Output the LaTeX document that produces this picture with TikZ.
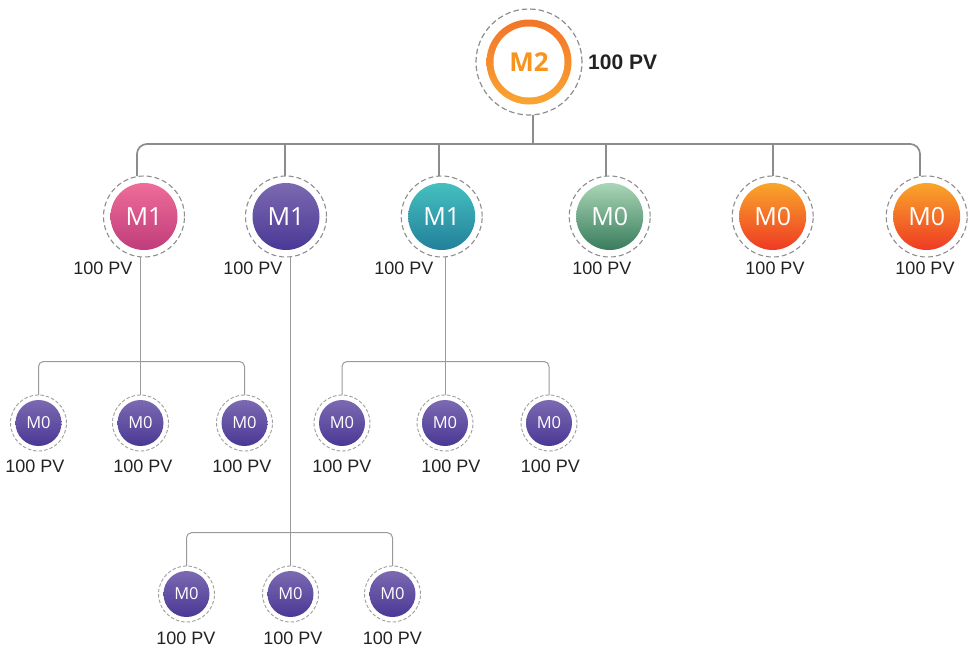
\documentclass[tikz,border=0pt]{standalone}
\usepackage{fontspec}
\setmainfont{Liberation Sans}
\newfontfamily\mfont{Open Sans}
\usetikzlibrary{calc}
\definecolor{halogray}{HTML}{8E8E8E}
\definecolor{linegray}{HTML}{8C8C8C}
\definecolor{lightline}{HTML}{9A9A9A}
\definecolor{pinkT}{HTML}{EE6D99}
\definecolor{pinkB}{HTML}{C03C7B}
\definecolor{purT}{HTML}{7B69B1}
\definecolor{purB}{HTML}{4A3995}
\definecolor{tealT}{HTML}{45C0C0}
\definecolor{tealB}{HTML}{22809A}
\definecolor{greenT}{HTML}{AAD6B6}
\definecolor{greenB}{HTML}{387C5C}
\definecolor{orT}{HTML}{F9A62A}
\definecolor{orB}{HTML}{EE3A24}
\definecolor{ringT}{HTML}{F37429}
\definecolor{ringB}{HTML}{F9A532}
\definecolor{mtwo}{HTML}{F7941D}
\definecolor{dark}{HTML}{222222}
\tikzset{
  halo1/.style={circle, draw=halogray, line width=1.1pt, dash pattern=on 5pt off 3pt, minimum size=81pt, inner sep=0pt, outer sep=0pt},
  halo2/.style={circle, draw=halogray!85, line width=0.9pt, dash pattern=on 3.5pt off 2pt, minimum size=56pt, inner sep=0pt, outer sep=0pt},
  ball1/.style 2 args={circle, minimum size=67pt, inner sep=0pt, top color=#1, bottom color=#2, text=white, font=\mfont\fontsize{25}{25}\selectfont},
  ball2/.style={circle, minimum size=46pt, inner sep=0pt, top color=purT, bottom color=purB, text=white, font=\mfont\fontsize{16.5}{16.5}\selectfont},
  pv/.style={font=\fontsize{18}{18}\selectfont, text=dark, inner sep=0pt},
  conn1/.style={draw=linegray, line width=1.7pt, rounded corners=10pt},
  conn2/.style={draw=lightline, line width=1pt, rounded corners=5pt},
}
\begin{document}
\begin{tikzpicture}[x=1pt,y=-1pt]
\useasboundingbox[fill=white] (0,0) rectangle (970,648);
% top member
\node[circle, draw=halogray, line width=1.2pt, dash pattern=on 5.5pt off 3pt, minimum size=106pt, inner sep=0pt, outer sep=0pt] (m2) at (529,62) {};
\node[circle, minimum size=85pt, inner sep=0pt, top color=ringT, bottom color=ringB] (m2ring) at (529,62) {};
\node[circle, minimum size=71pt, inner sep=0pt, fill=white, text=mtwo, font=\mfont\bfseries\fontsize{26}{26}\selectfont] (m2in) at (529,62) {M2};
\node[anchor=west, inner sep=0pt, text=dark, font=\bfseries\fontsize{21}{21}\selectfont] (m2pv) at (588,62) {100 PV};
% level 1
\node[halo1] (a) at (144,216.5) {};
\node[ball1={pinkT}{pinkB}] (ain) at (144,216.5) {M1};
\node[halo1] (b) at (286,216.5) {};
\node[ball1={purT}{purB}] (bin) at (286,216.5) {M1};
\node[halo1] (c) at (441.7,216.5) {};
\node[ball1={tealT}{tealB}] (cin) at (441.7,216.5) {M1};
\node[halo1] (d) at (609.7,216.5) {};
\node[ball1={greenT}{greenB}] (din) at (609.7,216.5) {M0};
\node[halo1] (e) at (772.7,216.5) {};
\node[ball1={orT}{orB}] (ein) at (772.7,216.5) {M0};
\node[halo1] (f) at (926.7,216.5) {};
\node[ball1={orT}{orB}] (fin) at (926.7,216.5) {M0};
\node[pv] (pa) at (103,268.5) {100 PV};
\node[pv] (pb) at (253,268.5) {100 PV};
\node[pv] (pc) at (404,268.5) {100 PV};
\node[pv] (pd) at (602,268.5) {100 PV};
\node[pv] (pe) at (775,268.5) {100 PV};
\node[pv] (pf) at (925,268.5) {100 PV};
% level 2 left (under a)
\foreach \n/\x/\lx in {g1/38.5/35, g2/140.5/143, g3/244.5/242}{
  \node[halo2] (\n) at (\x,423) {};
  \node[ball2] (\n in) at (\x,423) {M0};
  \node[pv] (\n pv) at (\lx,466) {100 PV};
}
% level 2 right (under c)
\foreach \n/\x/\lx in {h1/342/342, h2/445/451, h3/549/550.5}{
  \node[halo2] (\n) at (\x,423) {};
  \node[ball2] (\n in) at (\x,423) {M0};
  \node[pv] (\n pv) at (\lx,466) {100 PV};
}
% level 3 (under b)
\foreach \n/\x/\lx in {k1/186.5/186, k2/290.5/293, k3/392.5/392.5}{
  \node[halo2] (\n) at (\x,594) {};
  \node[ball2] (\n in) at (\x,594) {M0};
  \node[pv] (\n pv) at (\lx,638) {100 PV};
}
% connectors, level 1
\coordinate (bus1) at (533,144);
\draw[conn1] ([xshift=4pt]m2.south) -- (bus1);
\draw[conn1] ([xshift=-7pt]a.north) |- (bus1) -| ([xshift=-6.7pt]f.north);
\draw[conn1] ([xshift=-1pt]b.north) -- ([xshift=-1pt]b.north |- bus1);
\draw[conn1] ([xshift=-2.7pt]c.north) -- ([xshift=-2.7pt]c.north |- bus1);
\draw[conn1] ([xshift=-3.7pt]d.north) -- ([xshift=-3.7pt]d.north |- bus1);
\draw[conn1] ([xshift=0.3pt]e.north) -- ([xshift=0.3pt]e.north |- bus1);
% connectors, level 2 left
\coordinate (bus2a) at (140.5,361.5);
\draw[conn2] (a.south -| g2.north) -- (g2.north);
\draw[conn2] (g1.north) |- (bus2a) -| (g3.north);
% connectors, level 2 right
\coordinate (bus2b) at (445,361.5);
\draw[conn2] (c.south -| h2.north) -- (h2.north);
\draw[conn2] (h1.north) |- (bus2b) -| (h3.north);
% connectors, level 3
\coordinate (bus3) at (290.5,532.7);
\draw[conn2] (b.south -| k2.north) -- (k2.north);
\draw[conn2] (k1.north) |- (bus3) -| (k3.north);
\end{tikzpicture}
\end{document}
